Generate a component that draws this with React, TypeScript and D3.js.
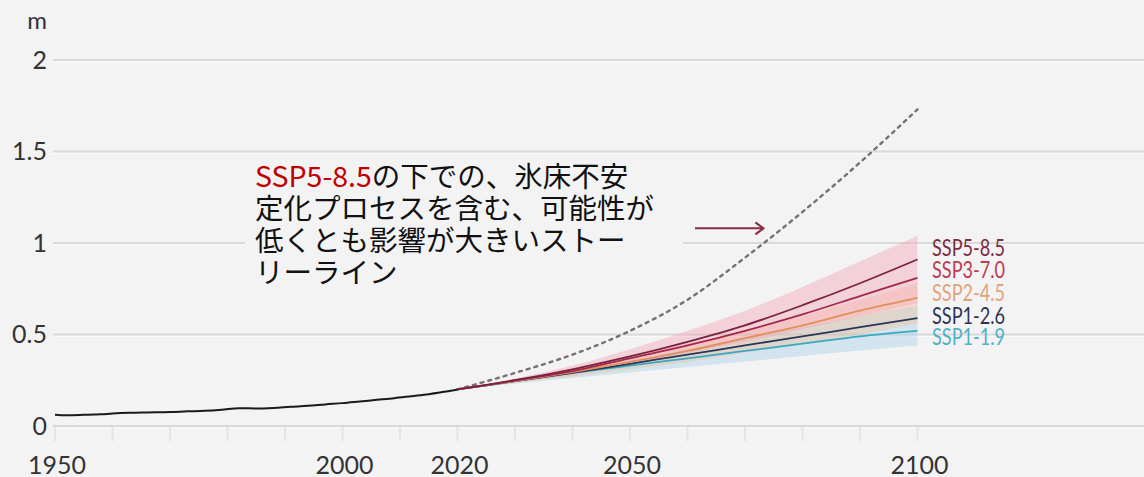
import React from "react";
import * as d3 from "d3";

// Global mean sea level change (m, relative to 1900)
const histYears = [1950, 1952, 1955, 1958, 1960, 1963, 1966, 1970, 1973, 1976, 1979, 1982, 1985, 1988, 1991, 1994, 1997, 2000, 2003, 2006, 2009, 2012, 2015, 2018, 2020];
const histValues = [0.062, 0.059, 0.061, 0.064, 0.068, 0.072, 0.074, 0.076, 0.08, 0.083, 0.089, 0.097, 0.096, 0.099, 0.105, 0.11, 0.118, 0.125, 0.134, 0.143, 0.152, 0.163, 0.174, 0.188, 0.2];

const projYears = [2020, 2030, 2040, 2050, 2060, 2070, 2080, 2090, 2100];
const ssp585 = [0.2, 0.25, 0.31, 0.38, 0.46, 0.55, 0.66, 0.78, 0.91];
const ssp370 = [0.2, 0.25, 0.3, 0.37, 0.44, 0.52, 0.61, 0.71, 0.81];
const ssp245 = [0.2, 0.245, 0.295, 0.35, 0.41, 0.48, 0.55, 0.63, 0.7];
const ssp126 = [0.2, 0.245, 0.29, 0.34, 0.39, 0.44, 0.49, 0.54, 0.59];
const ssp119 = [0.2, 0.245, 0.29, 0.33, 0.37, 0.41, 0.45, 0.49, 0.52];

// Likely ranges
const pinkLow = [0.2, 0.24, 0.28, 0.34, 0.4, 0.46, 0.53, 0.6, 0.67];
const pinkHigh = [0.2, 0.26, 0.33, 0.42, 0.52, 0.63, 0.76, 0.9, 1.04];
const orangeLow = [0.2, 0.235, 0.27, 0.31, 0.35, 0.4, 0.45, 0.5, 0.56];
const orangeHigh = [0.2, 0.255, 0.315, 0.38, 0.45, 0.52, 0.6, 0.69, 0.78];
const blueLow = [0.2, 0.232, 0.262, 0.292, 0.322, 0.352, 0.382, 0.412, 0.44];
const blueHigh = [0.2, 0.252, 0.305, 0.36, 0.42, 0.48, 0.54, 0.6, 0.66];

// Low-likelihood, high-impact storyline under SSP5-8.5
const llhiValues = [0.2, 0.29, 0.39, 0.52, 0.69, 0.92, 1.17, 1.44, 1.73];

const yTicks = [0, 0.5, 1, 1.5, 2];
const yTickLabels = ["0", "0.5", "1", "1.5", "2"];
const xMinorTicks = [1950, 1960, 1970, 1980, 1990, 2000, 2010, 2020, 2030, 2040, 2050, 2060, 2070, 2080, 2090, 2100];
const xLabelYears = [1950, 2000, 2020, 2050, 2100];

const scenarioNames = ["SSP5-8.5", "SSP3-7.0", "SSP2-4.5", "SSP1-2.6", "SSP1-1.9"];
const scenarioSeries = [ssp585, ssp370, ssp245, ssp126, ssp119];
const lineColors = ["#7a2040", "#a3284a", "#e0905e", "#2b3556", "#3aa8c0"];
const labelColors = ["#7d2b40", "#c0394f", "#e3a27c", "#2b3556", "#4fb0c6"];
const labelBaselines = [256, 278, 301, 324, 345];

const noteLines = [
  ["SSP5-8.5", "の下での、氷床不安"],
  ["", "定化プロセスを含む、可能性が"],
  ["", "低くとも影響が大きいストー"],
  ["", "リーライン"],
];

const W = 1144;
const H = 477;
const BG = "#f3f3f3";

export default function App() {
  const x = d3.scaleLinear().domain([1950, 2100]).range([55, 917.5]);
  const y = d3.scaleLinear().domain([0, 2]).range([426, 60]);

  const line = d3
    .line<[number, number]>()
    .x((d) => x(d[0]))
    .y((d) => y(d[1]))
    .curve(d3.curveMonotoneX);
  const area = d3
    .area<[number, number, number]>()
    .x((d) => x(d[0]))
    .y0((d) => y(d[1]))
    .y1((d) => y(d[2]))
    .curve(d3.curveMonotoneX);

  const pairs = (ys: number[], vs: number[]) => ys.map((yr, i) => [yr, vs[i]] as [number, number]);
  const bands = (lo: number[], hi: number[]) =>
    projYears.map((yr, i) => [yr, lo[i], hi[i]] as [number, number, number]);

  const tickFont = "Lato, 'DejaVu Sans', sans-serif";
  const cjkFont = "'Noto Sans CJK JP', 'Noto Sans', sans-serif";

  const arrowY = y(1.08);
  const arrowX0 = x(2061.3);
  const arrowX1 = x(2073.2);

  return (
    <svg
      width={W}
      height={H}
      style={{ position: "absolute", left: 0, top: 0, display: "block" }}
    >
      <rect width={W} height={H} fill={BG} />

      {/* horizontal grid */}
      {yTicks.map((t) => (
        <g key={t}>
          <line x1={53} x2={W} y1={y(t)} y2={y(t)} stroke="#d9d9d9" strokeWidth={2} />
          <line x1={53} x2={W} y1={y(t) + 2} y2={y(t) + 2} stroke="#fbfbfb" strokeWidth={1} />
        </g>
      ))}

      {/* x ticks */}
      {xMinorTicks.map((t) => (
        <line key={t} x1={x(t)} x2={x(t)} y1={y(0) + 1} y2={y(0) + 15} stroke="#e4e4e4" strokeWidth={2} />
      ))}

      {/* y labels */}
      {yTicks.map((t, i) => (
        <text key={t} x={47} y={y(t) + 8.5} textAnchor="end" fontFamily={tickFont} fontSize={25} fill="#333">
          {yTickLabels[i]}
        </text>
      ))}
      <text x={47} y={29} textAnchor="end" fontFamily={tickFont} fontSize={24} fill="#333">
        m
      </text>

      {/* x labels */}
      {xLabelYears.map((t) => (
        <text key={t} x={x(t) + 2} y={474} textAnchor="middle" fontFamily={tickFont} fontSize={25} fill="#333">
          {t}
        </text>
      ))}

      {/* likely ranges */}
      <path d={area(bands(blueLow, blueHigh)) || ""} fill="#9fd0e6" fillOpacity={0.4} />
      <path d={area(bands(orangeLow, orangeHigh)) || ""} fill="#f6b88c" fillOpacity={0.35} />
      <path d={area(bands(pinkLow, pinkHigh)) || ""} fill="#f4a3b6" fillOpacity={0.42} />

      {/* storyline */}
      <path
        d={line(pairs(projYears, llhiValues)) || ""}
        fill="none"
        stroke="#7a7070"
        strokeWidth={2.4}
        strokeDasharray="3 5"
        strokeLinecap="round"
      />

      {/* scenario medians, low to high */}
      {scenarioSeries
        .map((s, i) => ({ s, i }))
        .reverse()
        .map(({ s, i }) => (
          <path
            key={scenarioNames[i]}
            d={line(pairs(projYears, s)) || ""}
            fill="none"
            stroke={lineColors[i]}
            strokeWidth={1.8}
          />
        ))}

      {/* observed */}
      <path d={line(pairs(histYears, histValues)) || ""} fill="none" stroke="#1a1a1a" strokeWidth={2} />

      {/* scenario labels */}
      {scenarioNames.map((n, i) => (
        <text
          key={n}
          x={932}
          y={labelBaselines[i]}
          fontFamily={tickFont}
          fontSize={23}
          fill={labelColors[i]}
          textLength={73}
          lengthAdjust="spacingAndGlyphs"
        >
          {n}
        </text>
      ))}

      {/* annotation */}
      <rect x={245} y={156} width={438} height={144} fill={BG} />
      <text fontFamily={cjkFont} fontSize={28.5} fill="#111">
        {noteLines.map((ln, i) => (
          <tspan key={i} x={255} y={187 + i * 32}>
            {ln[0] ? <tspan fill="#c00000">{ln[0]}</tspan> : null}
            {ln[1]}
          </tspan>
        ))}
      </text>

      {/* arrow */}
      <line x1={arrowX0} x2={arrowX1} y1={arrowY} y2={arrowY} stroke="#8a2a45" strokeWidth={2} />
      <path
        d={`M${arrowX1 - 8},${arrowY - 6} L${arrowX1},${arrowY} L${arrowX1 - 8},${arrowY + 6}`}
        fill="none"
        stroke="#8a2a45"
        strokeWidth={2}
      />
    </svg>
  );
}
